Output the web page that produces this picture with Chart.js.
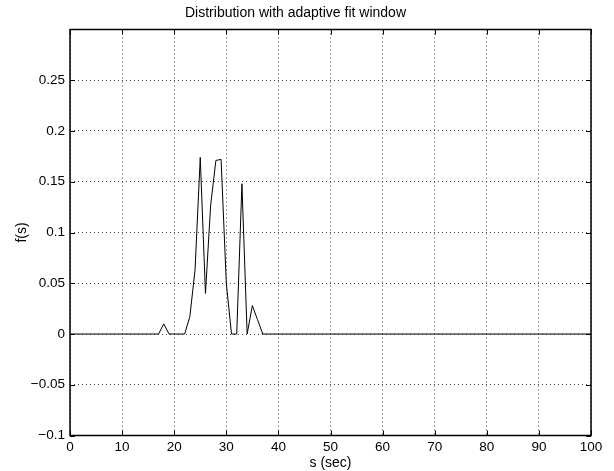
<!DOCTYPE html>
<html>
<head>
<meta charset="utf-8">
<script src="https://cdn.jsdelivr.net/npm/chart.js@4/dist/chart.umd.min.js"></script>
<style>
  html, body { margin: 0; padding: 0; background: #fff; }
  canvas { display: block; }
</style>
</head>
<body>
<canvas id="distChart" width="614" height="471"></canvas>
<script>
// values (s in sec, f(s))
let sValues = [0, 17, 18, 19, 22, 23, 24, 25, 26, 27, 28, 29, 30, 31, 32, 33, 34, 35, 36, 37, 100];
let fValues = [0, 0, 0.010, 0, 0, 0.017, 0.063, 0.174, 0.040, 0.127, 0.171, 0.172, 0.050, 0, 0, 0.148, 0, 0.028, 0.014, 0, 0];
let xTicks = [0, 10, 20, 30, 40, 50, 60, 70, 80, 90, 100];
let yTicks = [-0.1, -0.05, 0, 0.05, 0.1, 0.15, 0.2, 0.25];

let fontFamily = '"Liberation Sans", Arial, Helvetica, sans-serif';

function fmtTick(v) {
    var r = Math.round(v * 100) / 100;
    if (r === 0) return '0';
    return String(r).replace('-', '\u2212');
}

// inward tick marks + box like the original figure
let boxTicks = {
    id: 'boxTicks',
    afterDraw: function (chart) {
        var c = chart.ctx;
        var a = chart.chartArea;
        var xs = chart.scales.x;
        var ys = chart.scales.y;
        c.save();
        c.strokeStyle = '#000';
        c.lineWidth = 1;
        c.beginPath();
        xTicks.forEach(function (t) {
            var px = Math.round(xs.getPixelForValue(t)) + 0.5;
            c.moveTo(px, a.bottom); c.lineTo(px, a.bottom - 5);
            c.moveTo(px, a.top); c.lineTo(px, a.top + 5);
        });
        yTicks.forEach(function (t) {
            var py = Math.round(ys.getPixelForValue(t)) + 0.5;
            c.moveTo(a.left, py); c.lineTo(a.left + 5, py);
            c.moveTo(a.right, py); c.lineTo(a.right - 5, py);
        });
        c.stroke();
        c.lineWidth = 1.5;
        c.strokeRect(a.left, a.top, a.right - a.left, a.bottom - a.top);
        c.restore();
    }
};

let chartData = {
    datasets: [{
        label: 'f(s)',
        data: sValues.map(function (s, i) { return { x: s, y: fValues[i] }; }),
        borderColor: '#000',
        borderWidth: 1,
        pointRadius: 0,
        tension: 0,
        fill: false
    }]
};

let ctx = document.getElementById('distChart').getContext('2d');
let myChart = new Chart(ctx, {
    type: 'line',
    data: chartData,
    plugins: [boxTicks],
    options: {
        responsive: false,
        animation: false,
        layout: { padding: { top: 0, left: 0, right: 23, bottom: 0 } },
        plugins: {
            legend: { display: false },
            tooltip: { enabled: false },
            title: {
                display: true,
                text: 'Distribution with adaptive fit window',
                color: '#000',
                font: { family: fontFamily, size: 14, weight: 'normal' },
                padding: { top: 4.4, bottom: 8.3 }
            }
        },
        scales: {
            x: {
                type: 'linear',
                min: 0,
                max: 100,
                afterFit: function (s) { s.height = 35.5; },
                afterBuildTicks: function (s) { s.ticks = xTicks.map(function (v) { return { value: v }; }); },
                ticks: {
                    color: '#000',
                    padding: 4,
                    maxRotation: 0,
                    font: { family: fontFamily, size: 13.5 },
                    callback: function (v) { return String(v); }
                },
                grid: {
                    color: '#444',
                    lineWidth: 1,
                    drawTicks: false
                },
                border: { display: false, dash: [1, 3] },
                title: {
                    display: true,
                    text: 's (sec)',
                    color: '#000',
                    font: { family: fontFamily, size: 14 },
                    padding: { top: 0, bottom: -1 }
                }
            },
            y: {
                type: 'linear',
                min: -0.1,
                max: 0.3,
                afterFit: function (s) { s.width = 70; },
                afterBuildTicks: function (s) { s.ticks = yTicks.map(function (v) { return { value: v }; }); },
                ticks: {
                    color: '#000',
                    padding: 5,
                    font: { family: fontFamily, size: 13.5 },
                    callback: function (v) { return fmtTick(v); }
                },
                grid: {
                    color: '#444',
                    lineWidth: 1,
                    drawTicks: false
                },
                border: { display: false, dash: [1, 3] },
                title: {
                    display: true,
                    text: 'f(s)',
                    color: '#000',
                    font: { family: fontFamily, size: 14 },
                    padding: { top: 13.5, bottom: 0 }
                }
            }
        }
    }
});
</script>
</body>
</html>
